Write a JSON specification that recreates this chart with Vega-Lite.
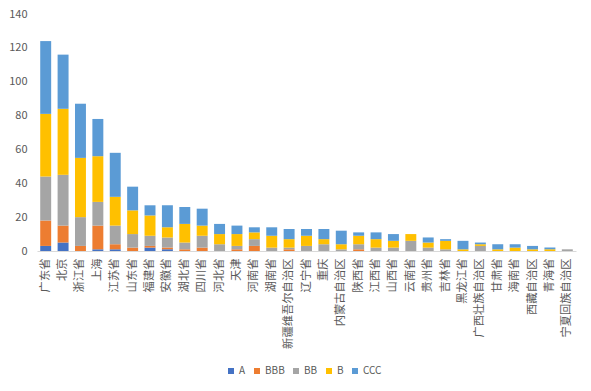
{
  "$schema": "https://vega.github.io/schema/vega-lite/v6.json",
  "width": 539,
  "height": 237,
  "autosize": {"type": "none"},
  "padding": {"left": 37, "top": 14, "right": 15, "bottom": 140},
  "background": "white",
  "config": {
    "font": "Noto Sans CJK SC",
    "view": {"stroke": null},
    "axis": {"labelColor": "#595959", "labelFontSize": 11, "title": null, "grid": false, "ticks": false}
  },
  "data": {
    "values": [
      {"province": "广东省", "rating": "A", "count": 3}, {"province": "广东省", "rating": "BBB", "count": 15}, {"province": "广东省", "rating": "BB", "count": 26}, {"province": "广东省", "rating": "B", "count": 37}, {"province": "广东省", "rating": "CCC", "count": 43},
      {"province": "北京", "rating": "A", "count": 5}, {"province": "北京", "rating": "BBB", "count": 10}, {"province": "北京", "rating": "BB", "count": 30}, {"province": "北京", "rating": "B", "count": 39}, {"province": "北京", "rating": "CCC", "count": 32},
      {"province": "浙江省", "rating": "A", "count": 0}, {"province": "浙江省", "rating": "BBB", "count": 3}, {"province": "浙江省", "rating": "BB", "count": 17}, {"province": "浙江省", "rating": "B", "count": 35}, {"province": "浙江省", "rating": "CCC", "count": 32},
      {"province": "上海", "rating": "A", "count": 1}, {"province": "上海", "rating": "BBB", "count": 14}, {"province": "上海", "rating": "BB", "count": 14}, {"province": "上海", "rating": "B", "count": 27}, {"province": "上海", "rating": "CCC", "count": 22},
      {"province": "江苏省", "rating": "A", "count": 1}, {"province": "江苏省", "rating": "BBB", "count": 3}, {"province": "江苏省", "rating": "BB", "count": 11}, {"province": "江苏省", "rating": "B", "count": 17}, {"province": "江苏省", "rating": "CCC", "count": 26},
      {"province": "山东省", "rating": "A", "count": 0}, {"province": "山东省", "rating": "BBB", "count": 2}, {"province": "山东省", "rating": "BB", "count": 8}, {"province": "山东省", "rating": "B", "count": 14}, {"province": "山东省", "rating": "CCC", "count": 14},
      {"province": "福建省", "rating": "A", "count": 2}, {"province": "福建省", "rating": "BBB", "count": 1}, {"province": "福建省", "rating": "BB", "count": 6}, {"province": "福建省", "rating": "B", "count": 12}, {"province": "福建省", "rating": "CCC", "count": 6},
      {"province": "安徽省", "rating": "A", "count": 1}, {"province": "安徽省", "rating": "BBB", "count": 1}, {"province": "安徽省", "rating": "BB", "count": 6}, {"province": "安徽省", "rating": "B", "count": 6}, {"province": "安徽省", "rating": "CCC", "count": 13},
      {"province": "湖北省", "rating": "A", "count": 0}, {"province": "湖北省", "rating": "BBB", "count": 1}, {"province": "湖北省", "rating": "BB", "count": 4}, {"province": "湖北省", "rating": "B", "count": 11}, {"province": "湖北省", "rating": "CCC", "count": 10},
      {"province": "四川省", "rating": "A", "count": 0}, {"province": "四川省", "rating": "BBB", "count": 2}, {"province": "四川省", "rating": "BB", "count": 7}, {"province": "四川省", "rating": "B", "count": 6}, {"province": "四川省", "rating": "CCC", "count": 10},
      {"province": "河北省", "rating": "A", "count": 0}, {"province": "河北省", "rating": "BBB", "count": 0}, {"province": "河北省", "rating": "BB", "count": 4}, {"province": "河北省", "rating": "B", "count": 6}, {"province": "河北省", "rating": "CCC", "count": 6},
      {"province": "天津", "rating": "A", "count": 0}, {"province": "天津", "rating": "BBB", "count": 1}, {"province": "天津", "rating": "BB", "count": 2}, {"province": "天津", "rating": "B", "count": 7}, {"province": "天津", "rating": "CCC", "count": 5},
      {"province": "河南省", "rating": "A", "count": 0}, {"province": "河南省", "rating": "BBB", "count": 3}, {"province": "河南省", "rating": "BB", "count": 4}, {"province": "河南省", "rating": "B", "count": 4}, {"province": "河南省", "rating": "CCC", "count": 3},
      {"province": "湖南省", "rating": "A", "count": 0}, {"province": "湖南省", "rating": "BBB", "count": 0}, {"province": "湖南省", "rating": "BB", "count": 2}, {"province": "湖南省", "rating": "B", "count": 7}, {"province": "湖南省", "rating": "CCC", "count": 5},
      {"province": "新疆维吾尔自治区", "rating": "A", "count": 0}, {"province": "新疆维吾尔自治区", "rating": "BBB", "count": 1}, {"province": "新疆维吾尔自治区", "rating": "BB", "count": 1}, {"province": "新疆维吾尔自治区", "rating": "B", "count": 5}, {"province": "新疆维吾尔自治区", "rating": "CCC", "count": 6},
      {"province": "辽宁省", "rating": "A", "count": 0}, {"province": "辽宁省", "rating": "BBB", "count": 0}, {"province": "辽宁省", "rating": "BB", "count": 3}, {"province": "辽宁省", "rating": "B", "count": 6}, {"province": "辽宁省", "rating": "CCC", "count": 4},
      {"province": "重庆", "rating": "A", "count": 0}, {"province": "重庆", "rating": "BBB", "count": 0}, {"province": "重庆", "rating": "BB", "count": 4}, {"province": "重庆", "rating": "B", "count": 3}, {"province": "重庆", "rating": "CCC", "count": 6},
      {"province": "内蒙古自治区", "rating": "A", "count": 0}, {"province": "内蒙古自治区", "rating": "BBB", "count": 0}, {"province": "内蒙古自治区", "rating": "BB", "count": 1}, {"province": "内蒙古自治区", "rating": "B", "count": 3}, {"province": "内蒙古自治区", "rating": "CCC", "count": 8},
      {"province": "陕西省", "rating": "A", "count": 0}, {"province": "陕西省", "rating": "BBB", "count": 1}, {"province": "陕西省", "rating": "BB", "count": 3}, {"province": "陕西省", "rating": "B", "count": 5}, {"province": "陕西省", "rating": "CCC", "count": 2},
      {"province": "江西省", "rating": "A", "count": 0}, {"province": "江西省", "rating": "BBB", "count": 0}, {"province": "江西省", "rating": "BB", "count": 2}, {"province": "江西省", "rating": "B", "count": 5}, {"province": "江西省", "rating": "CCC", "count": 4},
      {"province": "山西省", "rating": "A", "count": 0}, {"province": "山西省", "rating": "BBB", "count": 0}, {"province": "山西省", "rating": "BB", "count": 2}, {"province": "山西省", "rating": "B", "count": 4}, {"province": "山西省", "rating": "CCC", "count": 4},
      {"province": "云南省", "rating": "A", "count": 0}, {"province": "云南省", "rating": "BBB", "count": 0}, {"province": "云南省", "rating": "BB", "count": 6}, {"province": "云南省", "rating": "B", "count": 4}, {"province": "云南省", "rating": "CCC", "count": 0},
      {"province": "贵州省", "rating": "A", "count": 0}, {"province": "贵州省", "rating": "BBB", "count": 0}, {"province": "贵州省", "rating": "BB", "count": 2}, {"province": "贵州省", "rating": "B", "count": 3}, {"province": "贵州省", "rating": "CCC", "count": 3},
      {"province": "吉林省", "rating": "A", "count": 0}, {"province": "吉林省", "rating": "BBB", "count": 0}, {"province": "吉林省", "rating": "BB", "count": 1}, {"province": "吉林省", "rating": "B", "count": 5}, {"province": "吉林省", "rating": "CCC", "count": 1},
      {"province": "黑龙江省", "rating": "A", "count": 0}, {"province": "黑龙江省", "rating": "BBB", "count": 0}, {"province": "黑龙江省", "rating": "BB", "count": 0}, {"province": "黑龙江省", "rating": "B", "count": 1}, {"province": "黑龙江省", "rating": "CCC", "count": 5},
      {"province": "广西壮族自治区", "rating": "A", "count": 0}, {"province": "广西壮族自治区", "rating": "BBB", "count": 0}, {"province": "广西壮族自治区", "rating": "BB", "count": 3}, {"province": "广西壮族自治区", "rating": "B", "count": 1}, {"province": "广西壮族自治区", "rating": "CCC", "count": 1},
      {"province": "甘肃省", "rating": "A", "count": 0}, {"province": "甘肃省", "rating": "BBB", "count": 0}, {"province": "甘肃省", "rating": "BB", "count": 0}, {"province": "甘肃省", "rating": "B", "count": 1}, {"province": "甘肃省", "rating": "CCC", "count": 3},
      {"province": "海南省", "rating": "A", "count": 0}, {"province": "海南省", "rating": "BBB", "count": 0}, {"province": "海南省", "rating": "BB", "count": 0}, {"province": "海南省", "rating": "B", "count": 2}, {"province": "海南省", "rating": "CCC", "count": 2},
      {"province": "西藏自治区", "rating": "A", "count": 0}, {"province": "西藏自治区", "rating": "BBB", "count": 0}, {"province": "西藏自治区", "rating": "BB", "count": 0}, {"province": "西藏自治区", "rating": "B", "count": 1}, {"province": "西藏自治区", "rating": "CCC", "count": 2},
      {"province": "青海省", "rating": "A", "count": 0}, {"province": "青海省", "rating": "BBB", "count": 0}, {"province": "青海省", "rating": "BB", "count": 0}, {"province": "青海省", "rating": "B", "count": 1}, {"province": "青海省", "rating": "CCC", "count": 1},
      {"province": "宁夏回族自治区", "rating": "A", "count": 0}, {"province": "宁夏回族自治区", "rating": "BBB", "count": 0}, {"province": "宁夏回族自治区", "rating": "BB", "count": 1}, {"province": "宁夏回族自治区", "rating": "B", "count": 0}, {"province": "宁夏回族自治区", "rating": "CCC", "count": 0}
    ]
  },
  "transform": [
    {"calculate": "indexof(['A','BBB','BB','B','CCC'], datum.rating)", "as": "stackOrder"}
  ],
  "mark": {"type": "bar"},
  "encoding": {
    "x": {
      "field": "province",
      "type": "nominal",
      "sort": null,
      "scale": {"paddingInner": 0.37, "paddingOuter": 0.185},
      "axis": {
        "labelAngle": -90,
        "labelPadding": 7,
        "labelFontSize": 11.3,
        "domainColor": "#d9d9d9",
        "domainWidth": 1
      }
    },
    "y": {
      "field": "count",
      "type": "quantitative",
      "stack": "zero",
      "scale": {"domain": [0, 140], "nice": false},
      "axis": {
        "values": [0, 20, 40, 60, 80, 100, 120, 140],
        "domain": false,
        "labelPadding": 10
      }
    },
    "color": {
      "field": "rating",
      "type": "nominal",
      "scale": {
        "domain": ["A", "BBB", "BB", "B", "CCC"],
        "range": ["#4472C4", "#ED7D31", "#A5A5A5", "#FFC000", "#5B9BD5"]
      },
      "legend": {
        "orient": "none",
        "legendX": 189,
        "legendY": 352,
        "direction": "horizontal",
        "title": null,
        "symbolType": "square",
        "symbolSize": 36,
        "symbolStrokeWidth": 0,
        "labelFontSize": 10,
        "labelColor": "#595959",
        "labelOffset": 3,
        "columnPadding": 6
      }
    },
    "order": {"field": "stackOrder", "type": "quantitative", "sort": "ascending"}
  }
}
